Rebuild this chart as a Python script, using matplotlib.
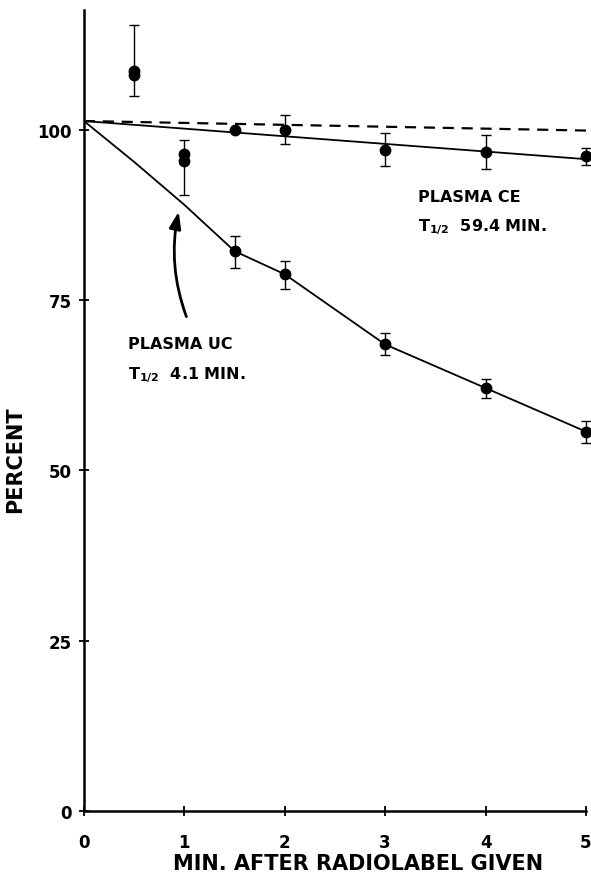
import matplotlib
matplotlib.use("Agg")
import matplotlib.pyplot as plt

plt.rcParams['font.family'] = ['DejaVu Sans']
plt.rcParams['mathtext.default'] = 'bf'

# measured points (minutes, percent), error bars as (below, above)
minutes = [0.5, 1.0, 1.5, 2.0, 3.0, 4.0, 5.0]
ce_pct = [108.7, 96.4, 100.0, 100.0, 97.0, 96.7, 96.1]
ce_err_lo = [0.0, 0.0, 0.0, 2.1, 2.3, 2.5, 1.2]
ce_err_hi = [6.7, 2.1, 0.0, 2.2, 2.5, 2.6, 1.3]
uc_pct = [108.1, 95.5, 82.2, 78.8, 68.5, 62.1, 55.7]
uc_err_lo = [3.2, 5.1, 2.5, 2.2, 1.6, 1.4, 1.6]
uc_err_hi = [0.0, 0.0, 2.2, 2.0, 1.7, 1.3, 1.6]

# fitted curves
ce_fit_x = [0.0, 5.0]
ce_fit_y = [101.3, 95.7]
uc_fit_x = [0.0, 0.5, 1.0, 1.5, 2.0, 3.0, 4.0, 5.0]
uc_fit_y = [101.3, 95.3, 89.0, 82.2, 78.8, 68.5, 62.1, 55.7]
ref_x = [0.0, 5.0]
ref_y = [101.3, 99.9]

xticks = [0, 1, 2, 3, 4, 5]
yticks = [0, 25, 50, 75, 100]

fig = plt.figure(figsize=(5.91, 8.79), dpi=100)
ax = fig.add_axes([0.142, 0.0762, 0.8495, 0.9113])

ax.plot(ref_x, ref_y, color='black', lw=1.6, dashes=(5, 3.5))
ax.plot(ce_fit_x, ce_fit_y, color='black', lw=1.3)
ax.plot(uc_fit_x, uc_fit_y, color='black', lw=1.3)

for yv, lo, hi in [(ce_pct, ce_err_lo, ce_err_hi), (uc_pct, uc_err_lo, uc_err_hi)]:
    ax.errorbar(minutes, yv, yerr=[lo, hi], fmt='o', color='black', ms=7.5,
                elinewidth=1.0, capsize=3.5, capthick=1.0, clip_on=False)

ax.annotate('', xy=(0.95, 88.4), xytext=(1.03, 72.2),
            arrowprops=dict(arrowstyle='-|>,head_length=1.0,head_width=0.35',
                            color='black', lw=2.0,
                            connectionstyle='arc3,rad=-0.15'))

ax.text(3.33, 89.6, 'PLASMA CE', fontsize=11.5, fontweight='bold')
ax.text(3.33, 85.3, r'T$_{1/2}$  59.4 MIN.', fontsize=11.5, fontweight='bold')
ax.text(0.44, 68.0, 'PLASMA UC', fontsize=11.5, fontweight='bold')
ax.text(0.44, 63.6, r'T$_{1/2}$  4.1 MIN.', fontsize=11.5, fontweight='bold')

ax.set_xlim(0, 5)
ax.set_ylim(0, 117.6)
ax.set_xticks(xticks)
ax.set_yticks(yticks)
ax.tick_params(direction='inout', length=7, width=1.3, labelsize=12)
ax.tick_params(axis='x', pad=12)
ax.tick_params(axis='y', pad=5)
for lab in ax.get_xticklabels() + ax.get_yticklabels():
    lab.set_fontweight('bold')

for s in ['top', 'right']:
    ax.spines[s].set_visible(False)
for s in ['left', 'bottom']:
    ax.spines[s].set_linewidth(1.8)

ax.set_ylabel('PERCENT', fontsize=15, fontweight='bold')
ax.set_xlabel('MIN. AFTER RADIOLABEL GIVEN', fontsize=15, fontweight='bold')
# label positions as placed in the original figure (axes fraction)
ax.yaxis.set_label_coords(-0.117, 0.44)
ax.xaxis.set_label_coords(0.547, -0.052)

fig.savefig('out.png', dpi=100)
